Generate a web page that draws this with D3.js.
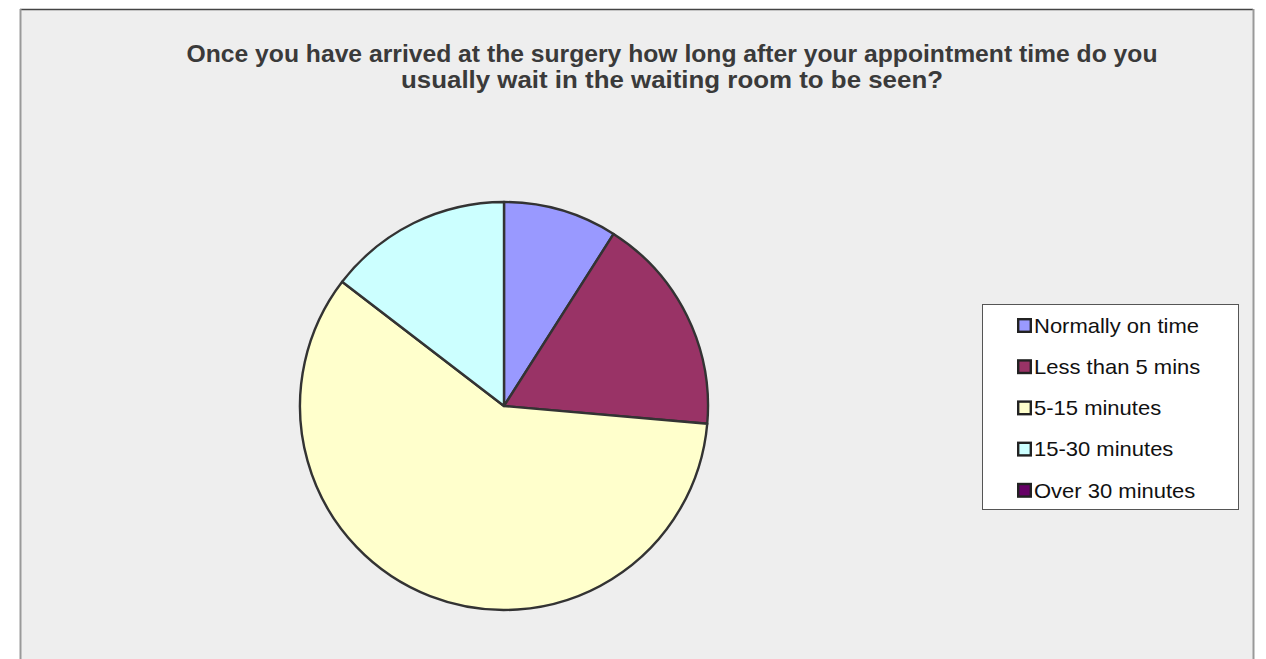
<!DOCTYPE html>
<html>
<head>
<meta charset="utf-8">
<script src="https://cdn.jsdelivr.net/npm/d3@7"></script>
<style>
  html, body { margin: 0; padding: 0; background: #ffffff; }
  svg { display: block; }
</style>
</head>
<body>
<svg id="chart" width="1266" height="659"></svg>
<script>
// Survey responses: waiting time after appointment
const categories = ["Normally on time", "Less than 5 mins", "5-15 minutes", "15-30 minutes", "Over 30 minutes"];
const responses = [13, 25, 85, 21, 0];
const sliceColors = ["#9999ff", "#993366", "#ffffcc", "#ccffff", "#660066"];
const titleLines = [
  "Once you have arrived at the surgery how long after your appointment time do you",
  "usually wait in the waiting room to be seen?"
];

const svg = d3.select("#chart");

// chart area
svg.append("rect")
  .attr("x", 20).attr("y", 9)
  .attr("width", 1233).attr("height", 700)
  .attr("fill", "#eeeeee");
svg.append("line").attr("x1", 20).attr("x2", 1253).attr("y1", 9.5).attr("y2", 9.5)
  .attr("stroke", "#444").attr("stroke-width", 1.5);
svg.append("line").attr("x1", 20.5).attr("x2", 20.5).attr("y1", 9).attr("y2", 659)
  .attr("stroke", "#999").attr("stroke-width", 2);
svg.append("line").attr("x1", 1253.5).attr("x2", 1253.5).attr("y1", 9).attr("y2", 659)
  .attr("stroke", "#999").attr("stroke-width", 2);

// title
const titleWidths = [971, 542];
svg.append("g").selectAll("text")
  .data(titleLines)
  .join("text")
  .attr("x", 672)
  .attr("y", (d, i) => 62 + i * 26)
  .attr("text-anchor", "middle")
  .attr("textLength", (d, i) => titleWidths[i])
  .attr("lengthAdjust", "spacingAndGlyphs")
  .attr("font-family", "'Liberation Sans', Arial, sans-serif")
  .attr("font-weight", "bold")
  .attr("font-size", 24)
  .attr("fill", "#3a3a3a")
  .text(d => d);

// pie
const cx = 504, cy = 406, radius = 204;
const color = d3.scaleOrdinal().domain(categories).range(sliceColors);
const pie = d3.pie().sort(null).value(d => d.value);
const arc = d3.arc().innerRadius(0).outerRadius(radius);
const data = categories.map((c, i) => ({ name: c, value: responses[i] }));

svg.append("g")
  .attr("transform", `translate(${cx},${cy})`)
  .selectAll("path")
  .data(pie(data).filter(d => d.data.value > 0))
  .join("path")
  .attr("d", arc)
  .attr("fill", d => color(d.data.name))
  .attr("stroke", "#333333")
  .attr("stroke-width", 2.4)
  .attr("stroke-linejoin", "round");

// legend
const legend = svg.append("g");
legend.append("rect")
  .attr("x", 982.5).attr("y", 304.5)
  .attr("width", 256).attr("height", 205)
  .attr("fill", "#ffffff")
  .attr("stroke", "#555555").attr("stroke-width", 1);

const items = legend.selectAll("g.item")
  .data(categories)
  .join("g")
  .attr("class", "item")
  .attr("transform", (d, i) => `translate(1017, ${325.5 + i * 41.2})`);
items.append("rect")
  .attr("x", 1.2).attr("y", -6.3)
  .attr("width", 12.6).attr("height", 12.6)
  .attr("fill", d => color(d))
  .attr("stroke", "#222222").attr("stroke-width", 2.4);
items.append("text")
  .attr("transform", "translate(17,0) scale(1.1,1)")
  .attr("dy", "0.36em")
  .attr("font-family", "'Liberation Sans', Arial, sans-serif")
  .attr("font-size", 20)
  .attr("fill", "#111111")
  .text(d => d);
</script>
</body>
</html>
